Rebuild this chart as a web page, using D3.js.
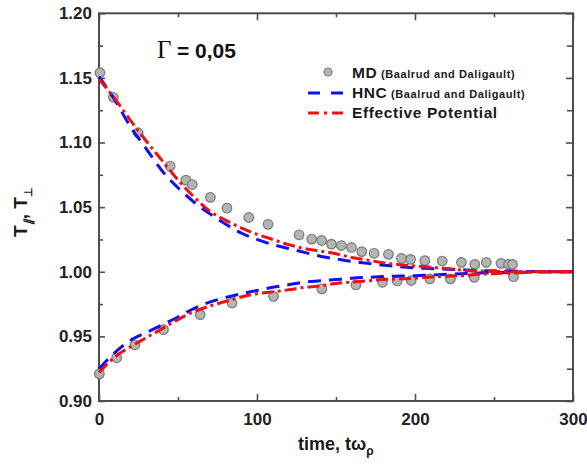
<!DOCTYPE html>
<html><head><meta charset="utf-8">
<script src="https://cdn.jsdelivr.net/npm/d3@7"></script>
<style>
body{margin:0;background:#fff}
svg{display:block}
text{font-family:"Liberation Sans",Arial,Helvetica,sans-serif}
</style>
</head><body>
<svg id="c" width="587" height="468"></svg>
<script>
// ---- data ----
const xTicksMajor = [0, 100, 200, 300];
const xTicksMinor = [50, 150, 250];
const yTicksMajor = [0.90, 0.95, 1.00, 1.05, 1.10, 1.15, 1.20];
const yTicksMinor = [0.925, 0.975, 1.025, 1.075, 1.125, 1.175];

const tFit = [0,10,20,30,40,50,60,70,80,90,100,110,120,130,140,150,160,170,180,190,200,210,220,230,240,250,260,270,280,290,300];
const hncUpper = [1.151,1.133,1.112,1.095,1.078,1.065,1.054,1.045,1.037,1.030,1.025,1.021,1.018,1.015,1.012,1.010,1.008,1.0065,1.005,1.004,1.003,1.0025,1.002,1.0015,1.001,1.0007,1.0005,1.0003,1.0002,1.0001,1.000];
const effUpper = [1.149,1.134,1.117,1.101,1.086,1.071,1.058,1.047,1.040,1.034,1.029,1.025,1.021,1.018,1.016,1.014,1.011,1.009,1.007,1.0055,1.0045,1.0035,1.0025,1.0012,1.0006,1.0003,1.0001,1.000,1.000,1.000,1.000];
const hncLower = [0.925,0.9375,0.947,0.953,0.959,0.965,0.9715,0.9765,0.980,0.983,0.9855,0.988,0.990,0.992,0.993,0.994,0.995,0.9957,0.9963,0.9967,0.997,0.9975,0.998,0.9985,0.999,0.9993,0.9995,0.9997,0.9998,0.9999,1.000];
const effLower = [0.922,0.934,0.942,0.949,0.956,0.963,0.969,0.9735,0.977,0.9805,0.983,0.9845,0.986,0.988,0.989,0.991,0.992,0.993,0.994,0.9945,0.995,0.996,0.9965,0.997,0.998,0.9985,0.999,0.9995,1.000,1.000,1.000];

const mdUpperT = [0.6,9.1,24.8,45,55,59,70.5,81,94.8,107,126.6,134.6,141,147.1,153.4,159.8,166.3,174.1,183.2,191.4,197.2,206.2,217.2,229.4,237.8,245.1,254.4,259.2,261.7];
const mdUpperV = [1.154,1.135,1.1076,1.0818,1.0709,1.0675,1.0576,1.0492,1.042,1.0367,1.0286,1.0253,1.0242,1.0214,1.0203,1.0188,1.0156,1.0143,1.0135,1.0104,1.0096,1.0086,1.0083,1.0073,1.0057,1.0073,1.0065,1.0057,1.0057];
const mdLowerT = [0.2,11.2,22.7,40.8,64,84.2,110.5,141,162.6,179.4,188.8,197.6,209.4,222.4,237.5,262.3];
const mdLowerV = [0.921,0.9335,0.9435,0.9552,0.9668,0.9758,0.981,0.9868,0.9898,0.9919,0.9929,0.9932,0.9945,0.9945,0.9957,0.9962];

const legendLabels = ["MD", "HNC", "Effective Potential"];
const legendNote = " (Baalrud and Daligault)";

// ---- chart ----
const svg = d3.select("#c");
const x = d3.scaleLinear().domain([0, 300]).range([99, 573]);
const y = d3.scaleLinear().domain([0.9, 1.2]).range([401, 13.3]);
const axisColor = "#4d4d4d";

function styleAxis(g){
  g.select(".domain").remove();
  g.selectAll(".tick line").attr("stroke", axisColor).attr("stroke-width", 1.6);
  g.selectAll(".tick text").attr("fill", "#222").attr("font-size", 17).attr("font-weight", "bold")
    .style("font-family", "'Liberation Sans',Arial,sans-serif");
}

// bottom
svg.append("g").attr("transform", `translate(0,${y(0.9)})`)
  .call(d3.axisBottom(x).tickValues(xTicksMajor).tickSizeInner(-7).tickSizeOuter(0).tickPadding(12).tickFormat(d3.format("d")))
  .call(styleAxis);
svg.append("g").attr("transform", `translate(0,${y(0.9)})`)
  .call(d3.axisBottom(x).tickValues(xTicksMinor).tickSizeInner(-4).tickSizeOuter(0).tickFormat(""))
  .call(styleAxis);
// top
svg.append("g").attr("transform", `translate(0,${y(1.2)})`)
  .call(d3.axisTop(x).tickValues(xTicksMajor).tickSizeInner(-7).tickSizeOuter(0).tickFormat(""))
  .call(styleAxis);
svg.append("g").attr("transform", `translate(0,${y(1.2)})`)
  .call(d3.axisTop(x).tickValues(xTicksMinor).tickSizeInner(-4).tickSizeOuter(0).tickFormat(""))
  .call(styleAxis);
// left
svg.append("g").attr("transform", `translate(${x(0)},0)`)
  .call(d3.axisLeft(y).tickValues(yTicksMajor).tickSizeInner(-6).tickSizeOuter(0).tickPadding(7).tickFormat(d3.format(".2f")))
  .call(styleAxis);
svg.append("g").attr("transform", `translate(${x(0)},0)`)
  .call(d3.axisLeft(y).tickValues(yTicksMinor).tickSizeInner(-4).tickSizeOuter(0).tickFormat(""))
  .call(styleAxis);
// right
svg.append("g").attr("transform", `translate(${x(300)},0)`)
  .call(d3.axisRight(y).tickValues(yTicksMajor).tickSizeInner(-7).tickSizeOuter(0).tickFormat(""))
  .call(styleAxis);
svg.append("g").attr("transform", `translate(${x(300)},0)`)
  .call(d3.axisRight(y).tickValues(yTicksMinor).tickSizeInner(-6).tickSizeOuter(0).tickFormat(""))
  .call(styleAxis);

// frame
svg.append("rect").attr("x", x(0)).attr("y", y(1.2))
  .attr("width", x(300) - x(0)).attr("height", y(0.9) - y(1.2))
  .attr("fill", "none").attr("stroke", axisColor).attr("stroke-width", 2);

// MD points
const mdPts = d3.zip(mdUpperT, mdUpperV).concat(d3.zip(mdLowerT, mdLowerV));
svg.append("g").selectAll("circle").data(mdPts).join("circle")
  .attr("cx", d => x(d[0])).attr("cy", d => y(d[1])).attr("r", 4.8)
  .attr("fill", "#b4b4b4").attr("stroke", "#7a7a7a").attr("stroke-width", 1.2);

// curves
const line = d3.line().x(d => x(d[0])).y(d => y(d[1])).curve(d3.curveMonotoneX);
const blue = "#1010f0", red = "#f01010";
[hncUpper, hncLower].forEach(s => {
  svg.append("path").datum(d3.zip(tFit, s)).attr("d", line)
    .attr("fill", "none").attr("stroke", blue).attr("stroke-width", 3)
    .attr("stroke-dasharray", "13,8");
});
[effUpper, effLower].forEach(s => {
  svg.append("path").datum(d3.zip(tFit, s)).attr("d", line)
    .attr("fill", "none").attr("stroke", red).attr("stroke-width", 3)
    .attr("stroke-dasharray", "12,4,3,4");
});

// Gamma label
svg.append("text").attr("x", 157).attr("y", 58).text("Γ")
  .attr("font-size", 25).style("font-family", "'Liberation Serif','Times New Roman',serif").attr("fill", "#111");
svg.append("text").attr("x", 177).attr("y", 58).text("= 0,05")
  .attr("font-size", 21).attr("font-weight", "bold").attr("fill", "#111");

// legend
const lg = svg.append("g");
lg.append("circle").attr("cx", 328).attr("cy", 72).attr("r", 4).attr("fill", "#b4b4b4").attr("stroke", "#7a7a7a").attr("stroke-width", 1.2);
lg.append("line").attr("x1", 308).attr("x2", 345).attr("y1", 93).attr("y2", 93)
  .attr("stroke", blue).attr("stroke-width", 3).attr("stroke-dasharray", "12,11");
lg.append("line").attr("x1", 308).attr("x2", 345).attr("y1", 113).attr("y2", 113)
  .attr("stroke", red).attr("stroke-width", 3).attr("stroke-dasharray", "11,5,3,5");
const legY = [78, 98, 118];
legendLabels.forEach((lab, i) => {
  const t = lg.append("text").attr("x", 352).attr("y", legY[i]).attr("fill", "#1a1a1a").attr("font-weight", "bold");
  t.append("tspan").text(lab).attr("font-size", 15.5).style("letter-spacing", "0.6px");
  if (i < 2) t.append("tspan").text(legendNote).attr("font-size", 11).style("letter-spacing", "0.6px");
});

// x axis title
const xt = svg.append("text").attr("x", 298).attr("y", 450).attr("font-weight", "bold").attr("fill", "#1a1a1a").attr("font-size", 18);
xt.append("tspan").text("time, tω");
xt.append("tspan").text("ρ").attr("font-size", 12).attr("dy", 5);

// y axis title
const yt = svg.append("text").attr("transform", "translate(27,212) rotate(-90)")
  .attr("text-anchor", "middle").attr("font-weight", "bold").attr("fill", "#1a1a1a").attr("font-size", 19);
yt.append("tspan").text("T");
yt.append("tspan").text("∥").attr("font-size", 11).attr("dy", 5).attr("font-style", "italic");
yt.append("tspan").text(", ").attr("dy", -5);
yt.append("tspan").text("T");
yt.append("tspan").text("⊥").attr("font-size", 11).attr("dy", 5);
</script>
</body></html>
